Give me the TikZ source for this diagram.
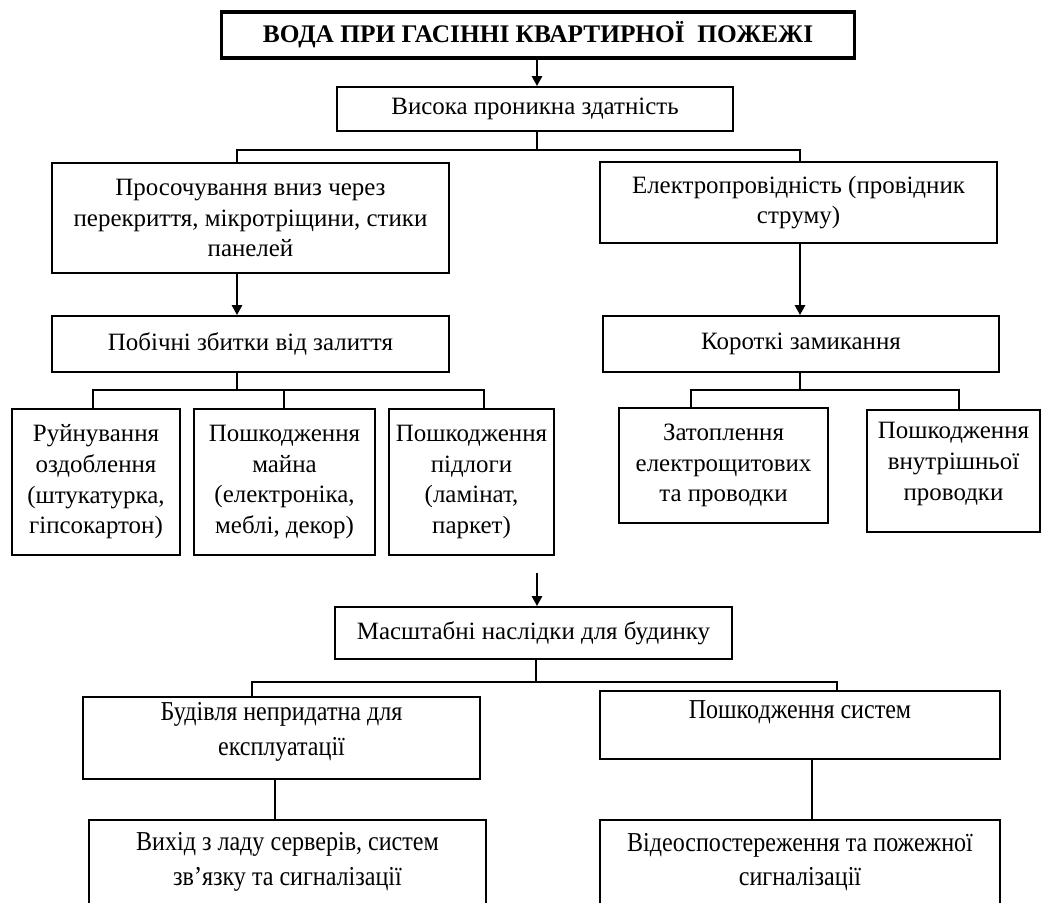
\documentclass[tikz,border=0pt]{standalone}
\usepackage{fontspec}
\setmainfont{Liberation Serif}
\newfontfamily\condserif[FakeStretch=0.88]{Liberation Serif}
\usetikzlibrary{arrows.meta,calc}
\begin{document}
\begin{tikzpicture}[x=0.75pt,y=-0.75pt,
  txt/.style={font=\fontsize{18.7}{23}\selectfont},
  ctxt/.style={font=\condserif\fontsize{20.5}{26}\selectfont},
  box/.style={draw, line width=1.3pt, align=center, inner sep=0pt, txt},
  lbl/.style={align=center, inner sep=0pt},
  wh/.style 2 args={minimum width=#1*0.75pt, minimum height=#2*0.75pt},
  conn/.style={line width=2.2pt},
  arr/.style={line width=2pt,-{Triangle[length=7.5pt,width=7.5pt]}}]
\useasboundingbox (0,0) rectangle (1046,903);
\clip (0,0) rectangle (1046,903);

% level 0-1
\node[box, line width=2.3pt, wh={633}{46}, font=\fontsize{19}{23}\selectfont\bfseries] (title) at (538,35) {ВОДА ПРИ ГАСІННІ КВАРТИРНОЇ~ ПОЖЕЖІ};
\node[box, wh={396}{44}] (high) at (535,109) {Висока проникна здатність};

% level 2
\node[box, wh={397}{110}] (seep) at (250.5,218) {Просочування вниз через\\перекриття, мікротріщини, стики\\панелей};
\node[box, wh={397}{81}] (elec) at (798.5,202.5) {Електропровідність (провідник\\струму)};

% level 3
\node[box, wh={397}{56}] (side) at (250.5,344) {Побічні збитки від залиття};
\node[box, wh={396}{56}] (short) at (801,344) {Короткі замикання};

% level 4
\node[box, wh={168}{146}] (b1) at (96,482) {Руйнування\\оздоблення\\(штукатурка,\\гіпсокартон)};
\node[box, wh={181}{146}] (b2) at (284.5,482) {Пошкодження\\майна\\(електроніка,\\меблі, декор)};
\node[box, wh={165}{146}] (b3) at (471.5,482) {Пошкодження\\підлоги\\(ламінат,\\паркет)};
\node[box, wh={209}{115}] (bz) at (723.5,465.5) {Затоплення\\електрощитових\\та проводки};
\node[box, wh={173}{122}] (bp) at (953.5,471) {};
\node[lbl, txt] (bpt) at (953.5,464) {Пошкодження\\внутрішньої\\проводки};

% lower part
\coordinate (freeA) at (537,573);
\node[box, wh={397}{52}] (mass) at (533.5,633) {Масштабні наслідки для будинку};
\node[box, wh={397}{82}] (bud) at (281.5,738) {};
\node[lbl, ctxt] (budt) at (281.5,732) {Будівля непридатна для\\експлуатації};
\node[box, wh={400}{68}] (psys) at (800,725) {};
\node[lbl, ctxt] (psyst) at (800,712) {Пошкодження систем};
\node[box, wh={397}{120}] (vyh) at (287.5,880) {};
\node[lbl, ctxt] (vyht) at (287.5,862) {Вихід з ладу серверів, систем\\зв’язку та сигналізації};
\node[box, wh={400}{120}] (video) at (800,880) {};
\node[lbl, ctxt] (videot) at (800,862) {Відеоспостереження та пожежної\\сигналізації};

% connectors: top
\draw[arr] (title.south -| 537,0) -- (high.north -| 537,0);
\coordinate (busL) at (237,150);
\coordinate (busR) at (800,150);
\draw[conn] (high.south -| 537,0) -- (busL -| 537,0);
\draw[conn] (busL |- seep.north) -- (busL) -- (busR) -- (busR |- elec.north);

% level 2 -> 3
\draw[arr] (seep.south -| busL) -- (side.north -| busL);
\draw[arr] (elec.south -| busR) -- (short.north -| busR);

% level 3 -> 4 (left)
\coordinate (lbL) at (93,390);
\coordinate (lbM) at (284,390);
\coordinate (lbR) at (484,390);
\draw[conn] (side.south -| busL) -- (lbL -| busL);
\draw[conn] (lbL |- b1.north) -- (lbL) -- (lbR) -- (lbR |- b3.north);
\draw[conn] (lbM) -- (lbM |- b2.north);

% level 3 -> 4 (right)
\coordinate (rbL) at (691,390);
\coordinate (rbR) at (959,390);
\draw[conn] (short.south -| busR) -- (rbL -| busR);
\draw[conn] (rbL |- bz.north) -- (rbL) -- (rbR) -- (rbR |- bp.north);

% lower
\draw[arr] (freeA) -- (freeA |- mass.north);
\coordinate (mbL) at (252,682);
\coordinate (mbR) at (837,682);
\draw[conn] (mass.south -| 536,0) -- (mbL -| 536,0);
\draw[conn] (mbL |- bud.north) -- (mbL) -- (mbR) -- (mbR |- psys.north);
\coordinate (vl) at (275,0);
\coordinate (vr) at (812,0);
\draw[conn] (bud.south -| vl) -- (vyh.north -| vl);
\draw[conn] (psys.south -| vr) -- (video.north -| vr);
\end{tikzpicture}
\end{document}
